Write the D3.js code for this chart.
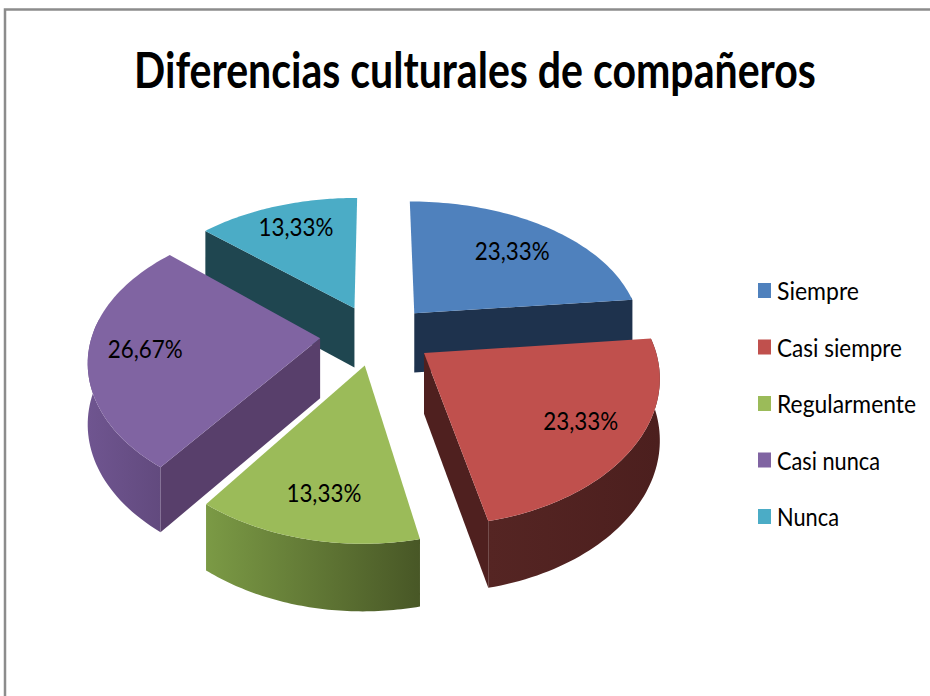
<!DOCTYPE html>
<html>
<head>
<meta charset="utf-8">
<script src="https://cdn.jsdelivr.net/npm/d3@7"></script>
<style>
	html, body { margin: 0; padding: 0; background: #fff; }
	svg { display: block; }
	text { font-family: 'Lato', 'Open Sans', sans-serif; fill: #000; }
</style>
</head>
<body>
<svg id="chart" width="930" height="696"></svg>
<script>
var title = 'Diferencias culturales de compañeros';
var categories = ['Siempre', 'Casi siempre', 'Regularmente', 'Casi nunca', 'Nunca'];
var values = [23.33, 23.33, 13.33, 26.67, 13.33];
var valueLabels = ['23,33%', '23,33%', '13,33%', '26,67%', '13,33%'];
var topColors = ['#4f81bd', '#c0504d', '#9bbb59', '#8064a2', '#4bacc6'];
var cutColors = ['#1e324d', '#4f201f', '#4b5a29', '#583f6b', '#1f4650'];
var wallLeft = ['#1e324d', '#552523', '#7b9a45', '#6f5590', '#1f4650'];
var wallRight = ['#1e324d', '#4c1f1e', '#485726', '#624a7e', '#1f4650'];
var labelFractions = [0.7, 0.75, 0.77, 0.77, 0.77];
var legendWidths = [82, 125, 139, 103, 62];

// pie geometry, perspective numbers worked out from the picture
var cx = 377, cy = 335;
var radius = 228, tilt = 137, camera = 6, depth = 60;
var explodeX = 0.25, explodeY = 0.22;

var svg = d3.select('#chart');
var defs = svg.append('defs');

// point on the pie plane (X right, Y away from viewer) -> screen
function project(X, Y, z) {
	var s = camera / (camera + Y);
	return [
		cx + X * Math.pow(s, 0.85) * radius,
		cy - Y * s * tilt + (z ? depth * (0.5 + 0.5 * s) : 0)
	];
}

var arcs = d3.pie().sort(null).startAngle(0).endAngle(2 * Math.PI)(values);
var line = d3.line();

var slices = arcs.map(function(a, i) {
	var mid = (a.startAngle + a.endAngle) / 2;
	return {
		i: i,
		a0: a.startAngle,
		a1: a.endAngle,
		mid: mid,
		ox: explodeX * Math.sin(mid),
		oy: explodeY * Math.cos(mid)
	};
});

function edge(d, angle, z) {
	return project(d.ox + Math.sin(angle), d.oy + Math.cos(angle), z);
}
function apex(d, z) {
	return project(d.ox, d.oy, z);
}
function cutFace(d, angle) {
	return line([apex(d, false), edge(d, angle, false), edge(d, angle, true), apex(d, true)]) + 'Z';
}
function sweep(d) {
	return d3.range(0, 61).map(function(k) {
		return d.a0 + (d.a1 - d.a0) * k / 60;
	});
}
function labelPoint(d) {
	var f = labelFractions[d.i];
	return project(d.ox + f * Math.sin(d.mid), d.oy + f * Math.cos(d.mid), false);
}

// frame
svg.append('path')
	.attr('d', 'M5,696V9.5H930')
	.attr('fill', 'none')
	.attr('stroke', '#8c8c8c')
	.attr('stroke-width', 2.5);

// squeeze the title to the reference width
var titleText = svg.append('text')
	.attr('text-anchor', 'middle')
	.attr('font-size', 49)
	.attr('font-weight', 700)
	.text(title);
titleText.attr('transform', 'translate(475,88) scale(' + (682 / titleText.node().getComputedTextLength()) + ',1)');

// back slices first
var order = slices.slice().sort(function(p, q) {
	return Math.cos(q.mid) - Math.cos(p.mid);
});

var pieces = svg.append('g').selectAll('g')
	.data(order)
	.enter()
	.append('g');

pieces.each(function(d) {
	var g = d3.select(this);
	var angles = sweep(d);
	var top = angles.map(function(a) { return edge(d, a, false); });
	// only the front part of the rim shows
	var front = angles.filter(function(a) { return Math.cos(a) < 0.15; });

	if (front.length > 1) {
		var wallTop = front.map(function(a) { return edge(d, a, false); });
		var wallBottom = front.map(function(a) { return edge(d, a, true); });
		var xs = d3.extent(wallTop, function(p) { return p[0]; });
		var id = 'wall' + d.i;

		var grad = defs.append('linearGradient')
			.attr('id', id)
			.attr('gradientUnits', 'userSpaceOnUse')
			.attr('x1', xs[0]).attr('x2', xs[1])
			.attr('y1', 0).attr('y2', 0);
		grad.append('stop').attr('offset', 0).attr('stop-color', wallLeft[d.i]);
		grad.append('stop').attr('offset', 1).attr('stop-color', wallRight[d.i]);

		g.append('path')
			.attr('d', line(wallTop.concat(wallBottom.reverse())) + 'Z')
			.attr('fill', 'url(#' + id + ')');
	}

	if (Math.sin(d.a0) < -1e-6) {
		g.append('path').attr('d', cutFace(d, d.a0)).attr('fill', cutColors[d.i]);
	}
	if (Math.sin(d.a1) > 1e-6) {
		g.append('path').attr('d', cutFace(d, d.a1)).attr('fill', cutColors[d.i]);
	}

	g.append('path')
		.attr('d', line([apex(d, false)].concat(top)) + 'Z')
		.attr('fill', topColors[d.i]);
});

// value labels
svg.append('g').selectAll('text')
	.data(slices)
	.enter()
	.append('text')
	.attr('text-anchor', 'middle')
	.attr('font-size', 25)
	.attr('textLength', 75)
	.attr('lengthAdjust', 'spacingAndGlyphs')
	.attr('x', function(d) { return labelPoint(d)[0] + 3; })
	.attr('y', function(d) { return labelPoint(d)[1] + 9; })
	.text(function(d) { return valueLabels[d.i]; });

// legend
var legendY = d3.scalePoint().domain(categories).range([291, 517]);
var legend = svg.append('g').selectAll('g')
	.data(categories)
	.enter()
	.append('g')
	.attr('transform', function(d) { return 'translate(0,' + legendY(d) + ')'; });

legend.append('rect')
	.attr('x', 758)
	.attr('y', -8)
	.attr('width', 13)
	.attr('height', 15)
	.attr('fill', function(d, i) { return topColors[i]; });

legend.append('text')
	.attr('x', 777)
	.attr('y', 9)
	.attr('font-size', 25)
	.attr('textLength', function(d, i) { return legendWidths[i]; })
	.attr('lengthAdjust', 'spacingAndGlyphs')
	.text(function(d) { return d; });
</script>
</body>
</html>
